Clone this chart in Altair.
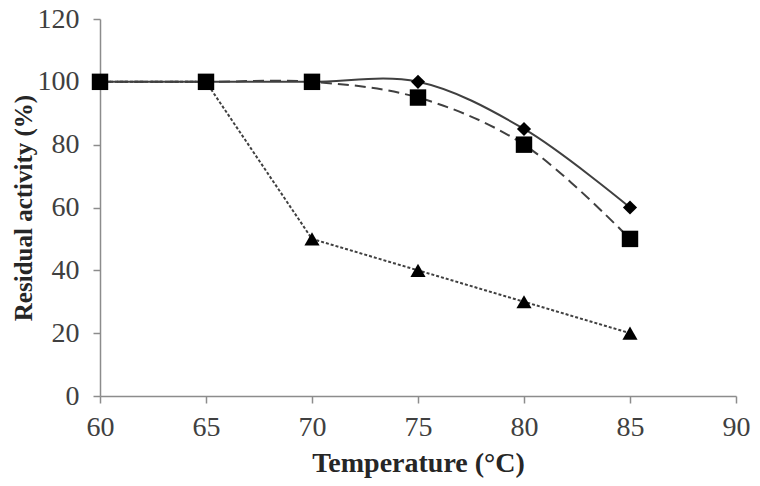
import altair as alt
import pandas as pd

temperature = [60, 65, 70, 75, 80, 85]
series_diamond = [100, 100, 100, 100, 85, 60]
series_square = [100, 100, 100, 95, 80, 50]
series_triangle = [100, 100, 50, 40, 30, 20]
x_ticks = [60, 65, 70, 75, 80, 85, 90]
y_ticks = [0, 20, 40, 60, 80, 100, 120]

rows = []
for name, vals in [("diamond", series_diamond), ("square", series_square), ("triangle", series_triangle)]:
    for t, v in zip(temperature, vals):
        rows.append({"temp": t, "act": v, "series": name})
df = pd.DataFrame(rows)

FONT = "Liberation Serif"

x_enc = alt.X("temp:Q", scale=alt.Scale(domain=[60, 90], nice=False, zero=False),
              axis=alt.Axis(values=x_ticks, title="Temperature (°C)", grid=False,
                            labelFontSize=28, titleFontSize=28, labelPadding=10,
                            titlePadding=8, labelFlush=False))
y_enc = alt.Y("act:Q", scale=alt.Scale(domain=[0, 120], nice=False),
              axis=alt.Axis(values=y_ticks, title="Residual activity (%)", grid=False,
                            labelFontSize=28, titleFontSize=25, labelPadding=14,
                            titlePadding=1, labelFlush=False))

base = alt.Chart(df)

line_d = base.transform_filter(alt.datum.series == "diamond").mark_line(
    interpolate="catmull-rom", color="#404040", strokeWidth=2).encode(x=x_enc, y=y_enc)
line_s = base.transform_filter(alt.datum.series == "square").mark_line(
    interpolate="catmull-rom", color="#404040", strokeWidth=2, strokeDash=[11, 6]).encode(x=x_enc, y=y_enc)
line_t = base.transform_filter(alt.datum.series == "triangle").mark_line(
    interpolate="linear", color="#404040", strokeWidth=2, strokeDash=[3, 2]).encode(x=x_enc, y=y_enc)

pts_t = base.transform_filter(alt.datum.series == "triangle").mark_point(
    shape="triangle-up", size=230, filled=True, color="black", opacity=1).encode(x=x_enc, y=y_enc)
pts_s = base.transform_filter(alt.datum.series == "square").mark_point(
    shape="square", size=270, filled=True, color="black", opacity=1).encode(x=x_enc, y=y_enc)
pts_d = base.transform_filter(alt.datum.series == "diamond").mark_point(
    shape="diamond", size=200, filled=True, color="black", opacity=1).encode(x=x_enc, y=y_enc)

chart = alt.layer(line_d, line_s, line_t, pts_t, pts_s, pts_d).properties(
    width=636, height=377,
    autosize=alt.AutoSizeParams(type="none"),
    padding={"left": 92, "top": 11, "right": 16, "bottom": 82},
).configure_view(stroke=None).configure_axis(
    labelFont=FONT, titleFont=FONT, labelColor="#404040", titleColor="#262626",
    titleFontWeight="bold", domainColor="#8c8c8c", tickColor="#8c8c8c",
    domainWidth=1.5, tickWidth=1.5, tickSize=7,
)

chart.save("out.html", embed_options={"renderer": "svg", "actions": False})
